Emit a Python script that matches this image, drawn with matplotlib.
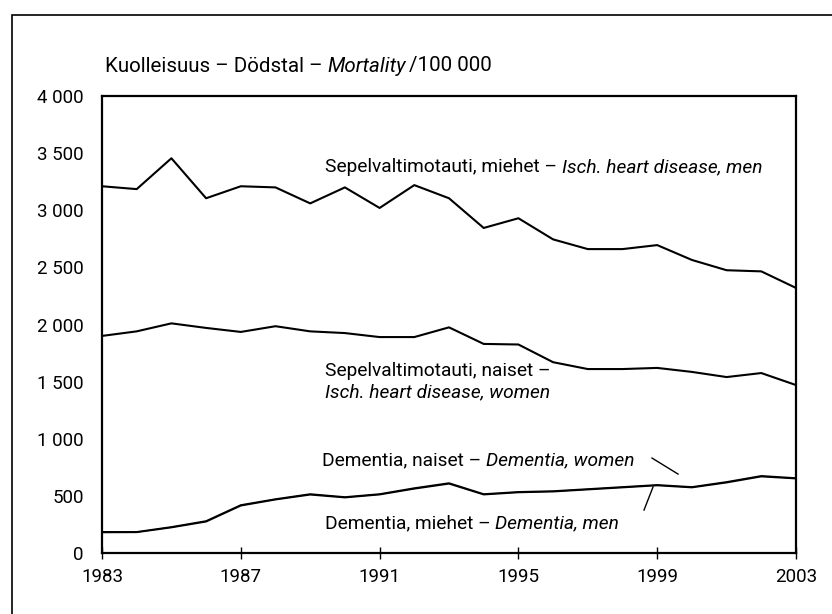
import matplotlib
matplotlib.use('Agg')
import matplotlib.pyplot as plt
from matplotlib import font_manager
from matplotlib.patches import Rectangle

# data
years = list(range(1983, 2004))
ihd_men = [3210, 3185, 3455, 3105, 3210, 3200, 3060, 3200, 3020, 3220, 3105,
           2845, 2930, 2745, 2660, 2660, 2695, 2565, 2475, 2465, 2320]
ihd_women = [1900, 1940, 2010, 1970, 1935, 1985, 1940, 1925, 1890, 1890, 1975,
             1830, 1825, 1670, 1610, 1610, 1620, 1585, 1540, 1575, 1470]
dem_women = [185, 185, 228, 280, 420, 472, 516, 490, 516, 568, 612,
             516, 535, 542, 560, 578, 596, 578, 622, 675, 656]
dem_men = [180, 181, 223, 274, 414, 467, 510, 485, 511, 562, 606,
           511, 530, 537, 555, 573, 591, 573, 616, 669, 651]

xticks = [1983, 1987, 1991, 1995, 1999, 2003]
yticks = [0, 500, 1000, 1500, 2000, 2500, 3000, 3500, 4000]
ylabels = ['0', '500', '1 000', '1 500', '2 000', '2 500', '3 000', '3 500', '4 000']

# narrow font if there is one
names = {f.name for f in font_manager.fontManager.ttflist}
if 'Liberation Sans Narrow' in names:
    plt.rcParams['font.family'] = ['Liberation Sans Narrow', 'DejaVu Sans']
else:
    plt.rcParams['font.family'] = ['Roboto', 'DejaVu Sans']

W, H = 832, 614
fs = 13.8
fig = plt.figure(figsize=(W / 100, H / 100), dpi=100)
ax = fig.add_axes([102 / W, (H - 553) / H, (796 - 102) / W, (553 - 96) / H])

# outer frame (runs off the right and bottom edges)
fig.patches.append(Rectangle((12 / W, -0.05), 1.1, (H - 15) / H + 0.05,
                             transform=fig.transFigure, fill=False,
                             edgecolor='black', linewidth=1.2))

ax.plot(years, ihd_men, color='black', lw=1.5)
ax.plot(years, ihd_women, color='black', lw=1.5)
ax.plot(years, dem_women, color='black', lw=1.2)
ax.plot(years, dem_men, color='black', lw=1.2)

ax.set_xlim(1983, 2003)
ax.set_ylim(0, 4000)
ax.set_xticks(xticks)
ax.set_xticklabels([str(x) for x in xticks])
ax.set_yticks(yticks)
ax.set_yticklabels(ylabels)
ax.tick_params(axis='y', length=0, pad=13, labelsize=13.5)
ax.tick_params(axis='x', direction='inout', length=8, width=1, pad=7, labelsize=13.5)
for s in ax.spines.values():
    s.set_linewidth(1.6)

# title, with the English word in italics
ty = 1 - 66 / H
t1 = fig.text(105 / W, ty, 'Kuolleisuus – Dödstal – ', ha='left', va='center', fontsize=14.8)
fig.canvas.draw()
bb = t1.get_window_extent()
t2 = fig.text(bb.x1 / W, ty, 'Mortality', ha='left', va='center',
              fontsize=14.8, style='italic')
fig.canvas.draw()
bb2 = t2.get_window_extent()
fig.text((bb2.x1 + 3) / W, ty, '/100 000', ha='left', va='center', fontsize=14.8)


def label(x, y, plain, ital):
    t = ax.text(x, y, plain, ha='left', va='center', fontsize=fs)
    fig.canvas.draw()
    b = t.get_window_extent()
    xd = ax.transData.inverted().transform((b.x1, b.y0))[0]
    ax.text(xd, y, ital, ha='left', va='center', fontsize=fs, style='italic')


label(1989.43, 3379, 'Sepelvaltimotauti, miehet – ', 'Isch. heart disease, men')
ax.text(1989.43, 1590, 'Sepelvaltimotauti, naiset –', ha='left', va='center', fontsize=fs)
ax.text(1989.43, 1405, 'Isch. heart disease, women', ha='left', va='center',
        fontsize=fs, style='italic')
label(1989.34, 814, 'Dementia, naiset – ', 'Dementia, women')
label(1989.43, 263, 'Dementia, miehet – ', 'Dementia, men')

# pointer lines
ax.plot([1998.85, 1999.6], [831, 691], color='black', lw=1)
ax.plot([1998.88, 1998.62], [578, 376], color='black', lw=1)

fig.savefig('out.png', dpi=100)
